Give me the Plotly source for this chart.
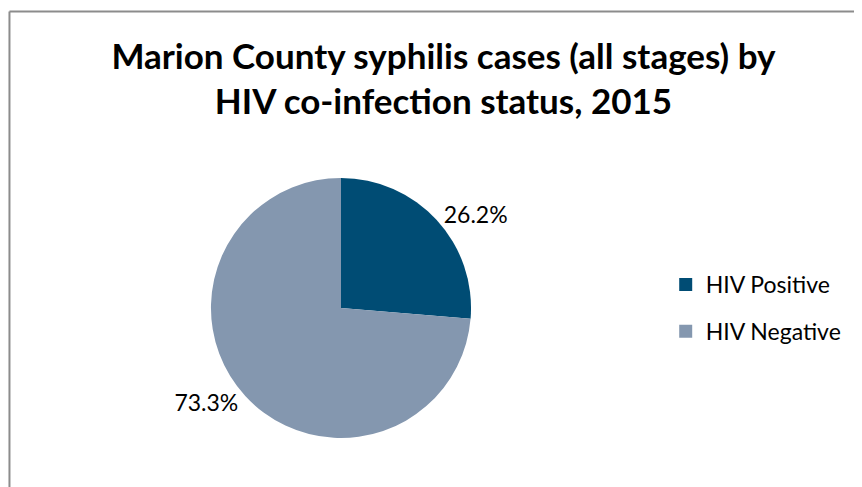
import plotly.graph_objects as go

# Данные
labels = ["HIV Positive", "HIV Negative"]
values = [26.2, 73.3]
text_labels = ["26.2%", "73.3%"]
colors = ["#004C74", "#8497AF"]

fig = go.Figure()
fig.add_trace(go.Pie(
    labels=labels,
    values=values,
    text=text_labels,
    textinfo="text",
    textposition="outside",
    textfont=dict(family="Lato", size=23, color="black"),
    marker=dict(colors=colors),
    sort=False,
    direction="clockwise",
    rotation=0,
    showlegend=False,
    domain=dict(x=[0.2343, 0.5383], y=[0.117, 0.651]),
))

# Легенда (отдельные группы, чтобы задать расстояние между пунктами)
for name, color in zip(labels, colors):
    fig.add_trace(go.Scatter(
        x=[None], y=[None], mode="markers", name=name,
        legendgroup=name,
        marker=dict(symbol="square", size=13, color=color),
    ))

fig.update_layout(
    width=862, height=487,
    margin=dict(l=0, r=0, t=0, b=0),
    paper_bgcolor="white",
    plot_bgcolor="white",
    xaxis=dict(visible=False),
    yaxis=dict(visible=False),
    title=dict(
        text="Marion County syphilis cases (all stages) by<br>HIV co-infection status, 2015",
        x=0.5052, xanchor="center", y=0.875, yanchor="middle",
        font=dict(family="Lato", size=35, color="black", weight="bold"),
    ),
    legend=dict(
        x=0.763, y=0.384, xanchor="left", yanchor="middle",
        tracegroupgap=14,
        font=dict(family="Lato", size=23, color="black"),
    ),
    shapes=[
        dict(type="line", xref="paper", yref="paper", x0=0.0017, x1=0.0017,
             y0=0, y1=1 - 3.5 / 487, line=dict(color="#8C8C8C", width=2)),
        dict(type="line", xref="paper", yref="paper", x0=0.0017, x1=1,
             y0=1 - 3.5 / 487, y1=1 - 3.5 / 487, line=dict(color="#8C8C8C", width=2)),
    ],
)

fig.write_html("out.html")
